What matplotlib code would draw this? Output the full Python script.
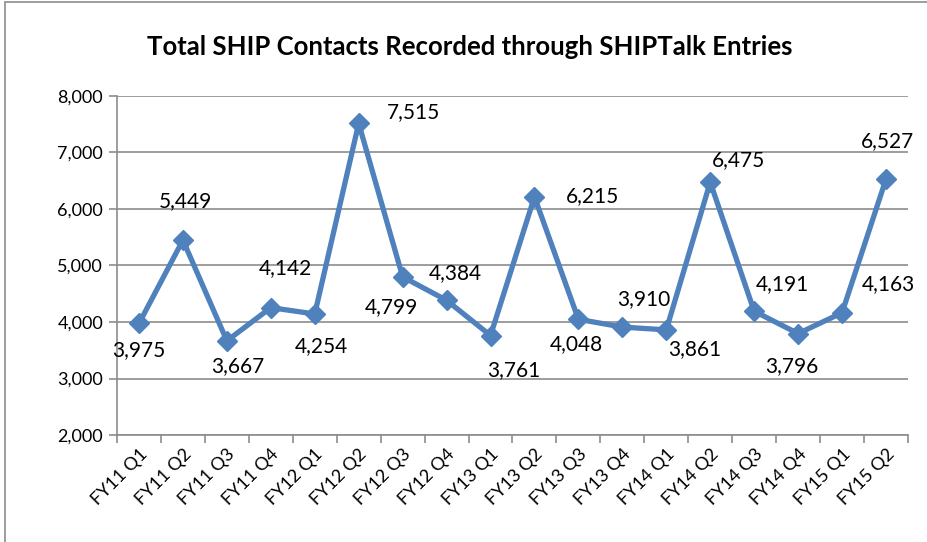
import matplotlib.pyplot as plt
from matplotlib.patches import Rectangle

quarters = ['FY11 Q1', 'FY11 Q2', 'FY11 Q3', 'FY11 Q4', 'FY12 Q1', 'FY12 Q2',
            'FY12 Q3', 'FY12 Q4', 'FY13 Q1', 'FY13 Q2', 'FY13 Q3', 'FY13 Q4',
            'FY14 Q1', 'FY14 Q2', 'FY14 Q3', 'FY14 Q4', 'FY15 Q1', 'FY15 Q2']
contacts = [3975, 5449, 3667, 4254, 4142, 7515, 4799, 4384, 3761,
            6215, 4048, 3910, 3861, 6475, 4191, 3796, 4163, 6527]

# label offsets from each point, in pixels (x right, y up)
label_offsets = [(0, -27), (2, 39), (11, -25), (51, -38), (-29, 46), (55, 11),
                 (-11, -30), (9, 27), (23, -35), (58, 1), (-2, -25), (21, 28),
                 (28, -19), (28, 22), (28, 27), (-6, -33), (46, 29), (2, 38)]

plt.rcParams['font.family'] = ['Lato', 'DejaVu Sans']

fig = plt.figure(figsize=(9.28, 5.42), dpi=100)
ax = fig.add_axes([0.1261, 0.1974, 0.8523, 0.6255])

# outer chart border (right and bottom run off the image)
fig.patches.append(Rectangle((5 / 928, -0.05), 1.1, 1 - 2 / 542 + 0.05,
                             transform=fig.transFigure, fill=False,
                             edgecolor='#8c8c8c', linewidth=1.2))

x = list(range(len(quarters)))
ax.plot(x, contacts, color='#4F81BD', linewidth=3.8, marker='D',
        markersize=10.5, zorder=3)

for xi, v, (dx, dy) in zip(x, contacts, label_offsets):
    ax.annotate(f'{v:,}', (xi, v), xytext=(dx, dy), textcoords='offset pixels',
                ha='center', va='center', fontsize=15, color='black')

ax.set_xlim(-0.5, len(quarters) - 0.5)
ax.set_ylim(2000, 8000)
ax.set_yticks(range(2000, 8001, 1000))
ax.set_yticklabels([f'{t:,}' for t in range(2000, 8001, 1000)], fontsize=13)
ax.yaxis.grid(True, color='#8c8c8c', linewidth=1.2)
ax.set_axisbelow(True)

ax.set_xticks(x)
ax.set_xticklabels(quarters, rotation=45, ha='right', rotation_mode='anchor',
                   fontsize=13)
ax.tick_params(axis='x', length=0, pad=8)
# category boundary tick marks
ax.set_xticks([i - 0.5 for i in range(len(quarters) + 1)], minor=True)
ax.tick_params(axis='x', which='minor', length=6, color='#8c8c8c', width=1.2)
ax.tick_params(axis='y', length=6, color='#8c8c8c', width=1.2, pad=4)

for side in ['top', 'right']:
    ax.spines[side].set_visible(False)
for side in ['left', 'bottom']:
    ax.spines[side].set_color('#8c8c8c')
    ax.spines[side].set_linewidth(1.2)

fig.text(0.506, 0.913, 'Total SHIP Contacts Recorded through SHIPTalk Entries',
         ha='center', va='center', fontsize=18.5, fontweight='bold')

fig.savefig('out.png', dpi=100)
